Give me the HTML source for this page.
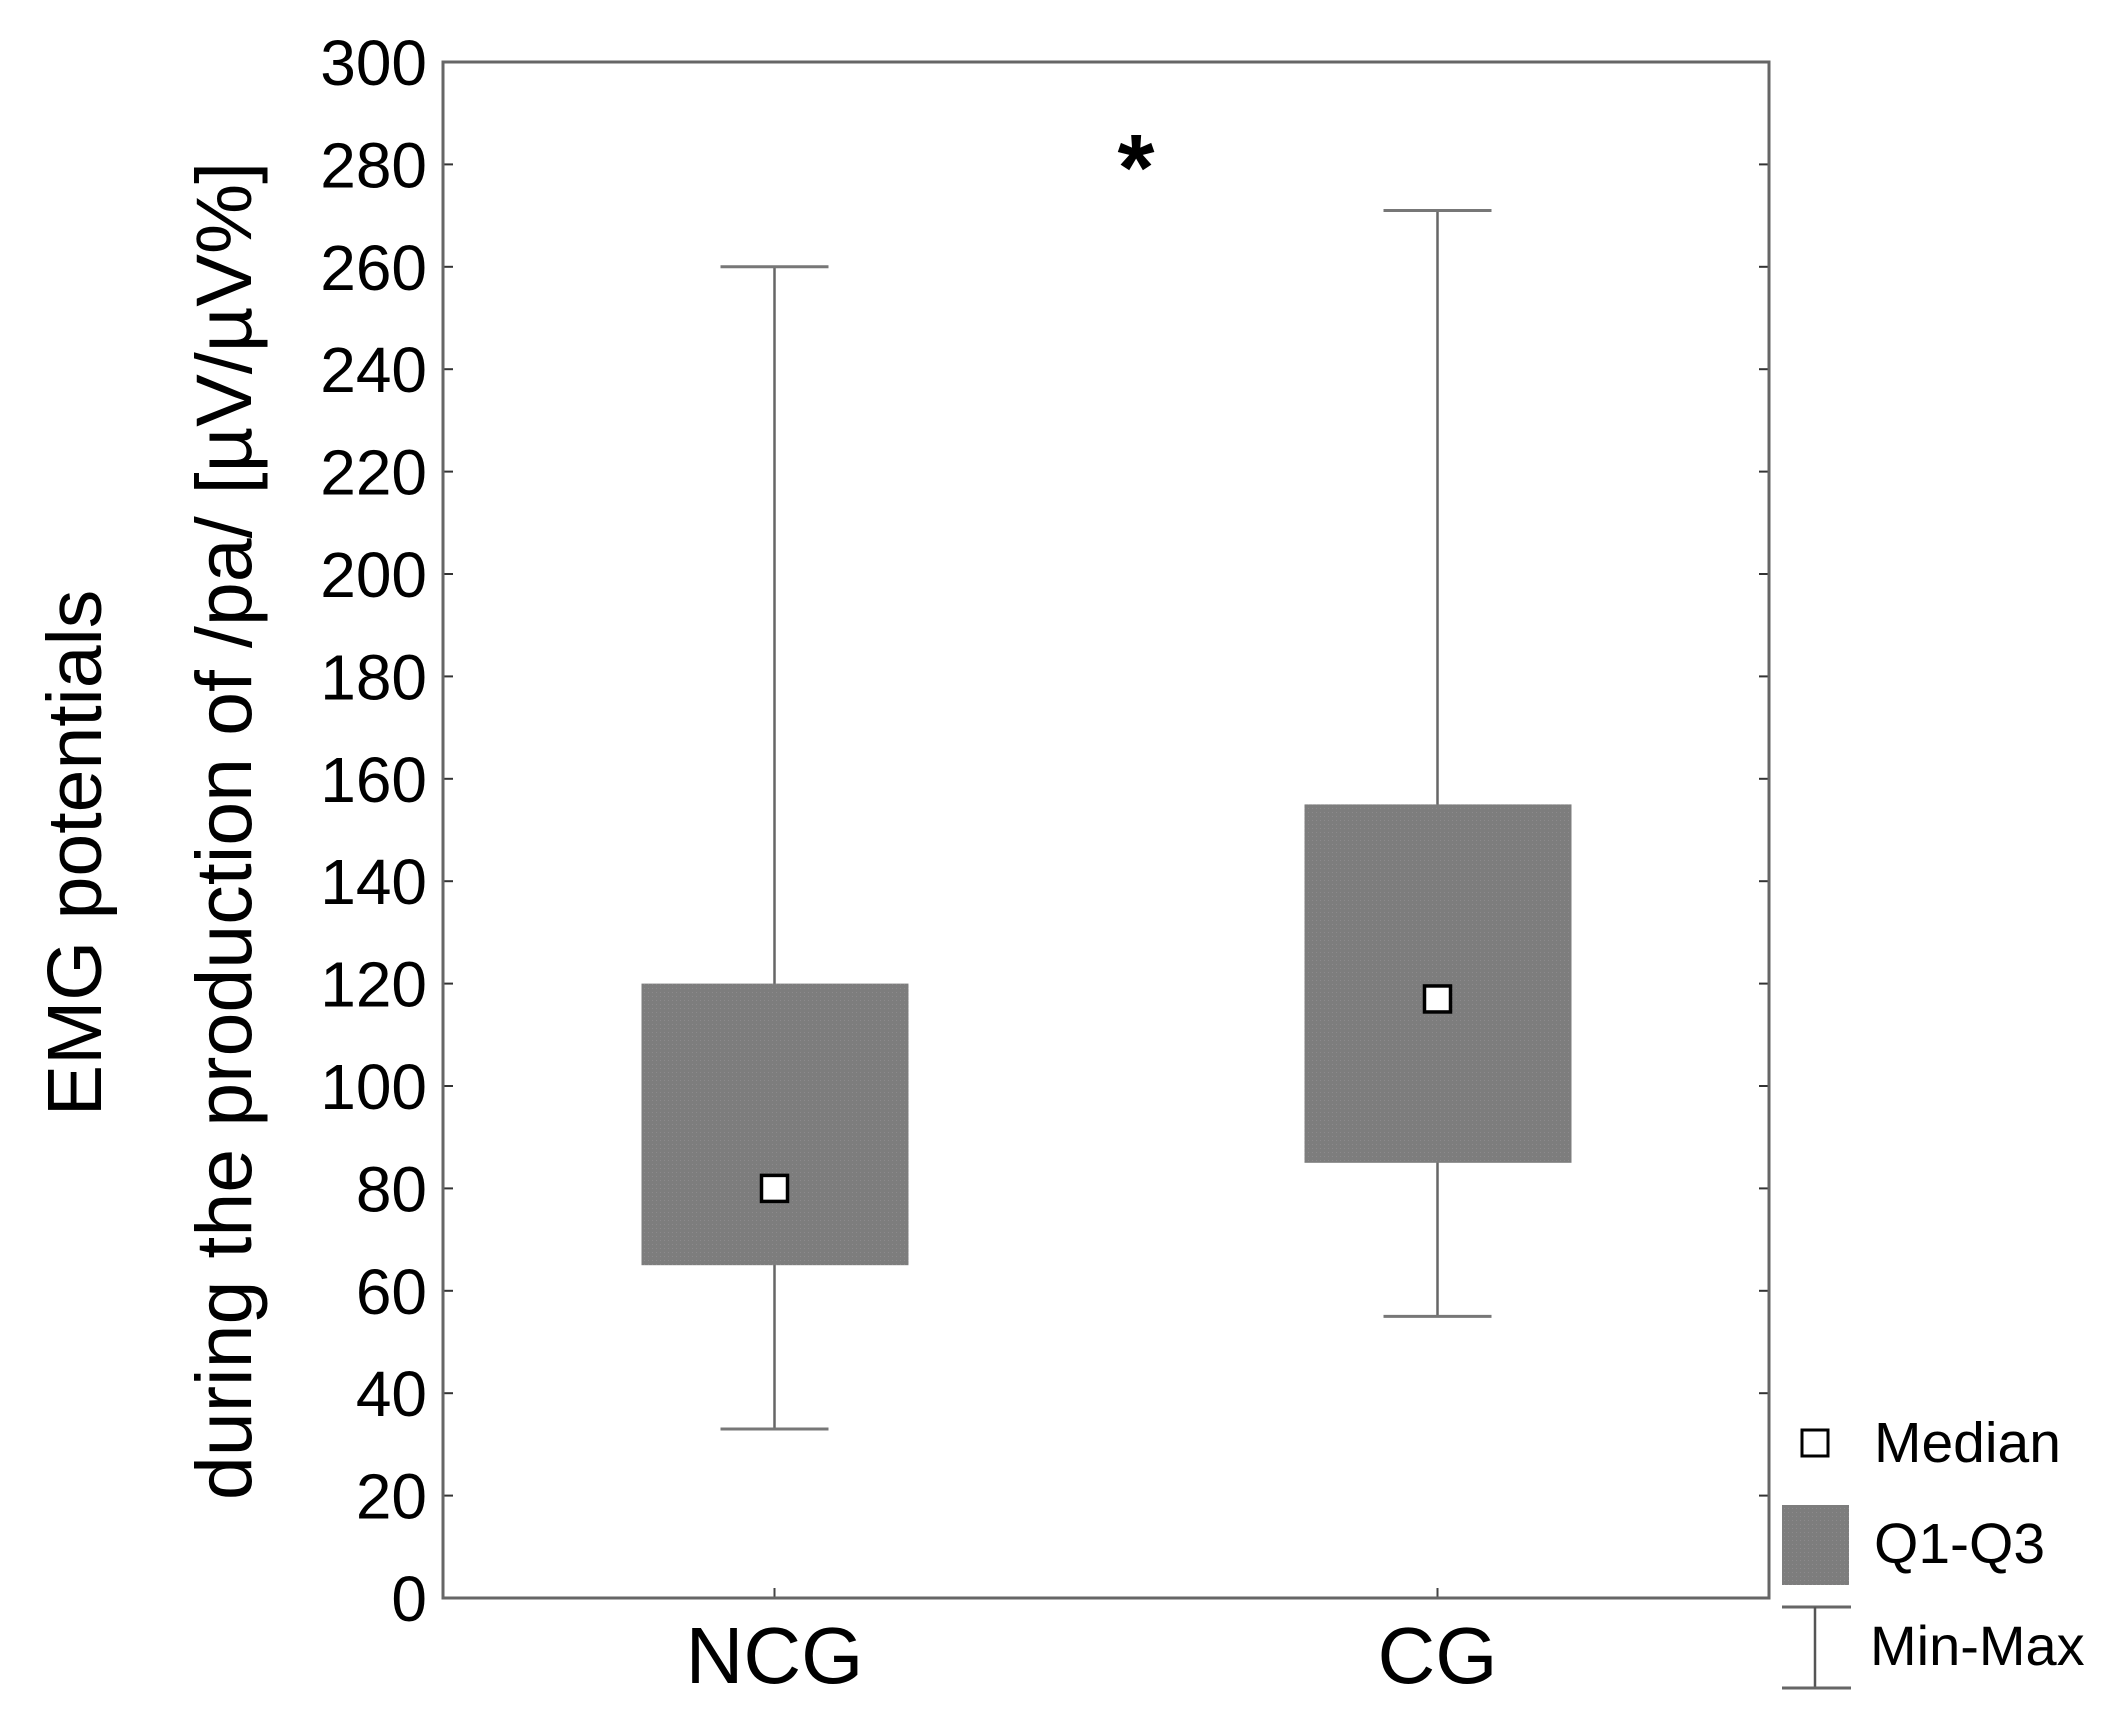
<!DOCTYPE html>
<html><head><meta charset="utf-8"><style>
html,body{margin:0;padding:0;background:#fff;}
svg{display:block;font-family:"Liberation Sans",Arial,sans-serif;}
</style></head><body>
<svg id="chart" width="2124" height="1718" viewBox="0 0 2124 1718" xmlns="http://www.w3.org/2000/svg">
<defs>
<pattern id="stip" width="4" height="4" patternUnits="userSpaceOnUse">
<rect width="4" height="4" fill="#7d7d7d"/><rect width="1" height="1" fill="#8c8a8c"/>
</pattern>
</defs>
<g id="plot"></g>
<text transform="translate(101,853) rotate(-90)" text-anchor="middle" font-size="77">EMG potentials</text>
<text transform="translate(251,831) rotate(-90)" text-anchor="middle" font-size="79">during the production of /pa/ [µV/µV%]</text>
<text x="1136" y="200" text-anchor="middle" font-size="95" font-weight="bold">*</text>
<g>
<rect x="1802" y="1430" width="26" height="26" fill="#fff" stroke="#000" stroke-width="3"/>
<text x="1874" y="1462" font-size="57">Median</text>
<rect x="1782" y="1505" width="67" height="80" fill="url(#stip)"/>
<text x="1874" y="1563" font-size="57">Q1-Q3</text>
<line x1="1782" y1="1607" x2="1851" y2="1607" stroke="#666" stroke-width="3"/>
<line x1="1815" y1="1607" x2="1815" y2="1688" stroke="#555" stroke-width="2.5"/>
<line x1="1782" y1="1688" x2="1851" y2="1688" stroke="#666" stroke-width="3"/>
<text x="1870" y="1665" font-size="56">Min-Max</text>
</g>
</svg>
<script>
const categories = ["NCG", "CG"];
const q1Values = [65, 85];
const q3Values = [120, 155];
const medianValues = [80, 117];
const minValues = [33, 55];
const maxValues = [260, 271];
const yTicks = [0,20,40,60,80,100,120,140,160,180,200,220,240,260,280,300];

const L=443, R=1769, T=62, B=1598, yMax=300;
const catFrac=[0.250,0.750];
const y = v => B - (v/yMax)*(B-T);
const x = i => L + catFrac[i]*(R-L);
const NS="http://www.w3.org/2000/svg";
const g=document.getElementById('plot');
function mk(tag,attrs){const e=document.createElementNS(NS,tag);for(const k in attrs)e.setAttribute(k,attrs[k]);g.appendChild(e);return e;}

categories.forEach((c,i)=>{
  const cx=x(i);
  let w=mk('line',{x1:cx,y1:y(maxValues[i]),x2:cx,y2:y(minValues[i]),stroke:'#666','stroke-width':2.5});
  
  
  let cmax=mk('line',{x1:cx-54,y1:y(maxValues[i]),x2:cx+54,y2:y(maxValues[i]),stroke:'#777','stroke-width':3});
  
  
  let cmin=mk('line',{x1:cx-54,y1:y(minValues[i]),x2:cx+54,y2:y(minValues[i]),stroke:'#777','stroke-width':3});
  
  
  let b=mk('rect',{x:cx-133,y:y(q3Values[i]),width:267,height:y(q1Values[i])-y(q3Values[i]),fill:'url(#stip)'});
  
  
  let m=mk('rect',{x:cx-13,y:y(medianValues[i])-13,width:26,height:26,fill:'#fff',stroke:'#000','stroke-width':3.5});
  
  
  let tk=mk('line',{x1:cx,y1:B,x2:cx,y2:B-10,stroke:'#444','stroke-width':2});
  
  
  let t=mk('text',{x:cx,y:1683,'text-anchor':'middle','font-size':80});
  t.textContent=c;
  
  
});

yTicks.forEach(v=>{
  const yy=y(v);
  let a=mk('line',{x1:L,y1:yy,x2:L+10,y2:yy,stroke:'#333','stroke-width':2});
  
  
  let b=mk('line',{x1:R,y1:yy,x2:R-10,y2:yy,stroke:'#333','stroke-width':2});
  
  
  let t=mk('text',{x:427,y:yy+23,'text-anchor':'end','font-size':64});
  t.textContent=v;
  
  
});
let frame=mk('rect',{x:L,y:T,width:R-L,height:B-T,fill:'none',stroke:'#666','stroke-width':3});


</script>
</body></html>
